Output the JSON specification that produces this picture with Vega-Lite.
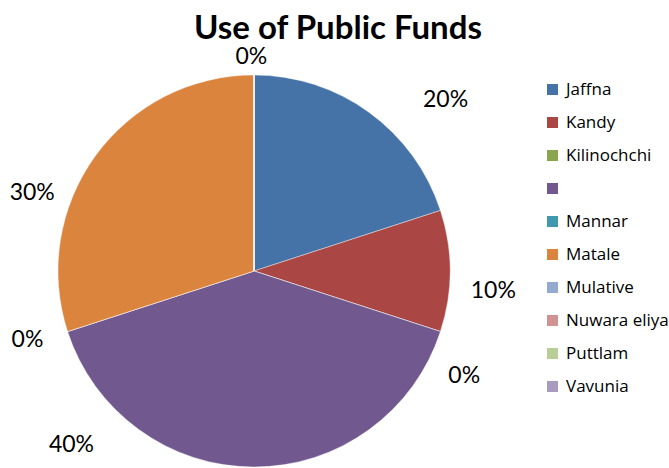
{
  "$schema": "https://vega.github.io/schema/vega-lite/v6.json",
  "autosize": "none",
  "width": 392,
  "height": 392,
  "padding": {"left": 58, "top": 75, "right": 219, "bottom": 1},
  "background": "white",
  "title": {
    "text": "Use of Public Funds",
    "font": "Lato",
    "fontSize": 33,
    "fontWeight": "bold",
    "color": "black",
    "anchor": "middle",
    "frame": "group",
    "dx": 84,
    "dy": 64,
    "baseline": "alphabetic",
    "offset": 38
  },
  "config": {
    "view": {"stroke": null},
    "legend": {
      "labelFont": "Open Sans",
      "labelFontSize": 17,
      "labelColor": "black",
      "symbolType": "square",
      "symbolSize": 121,
      "symbolStrokeWidth": 0,
      "labelOffset": 5,
      "rowPadding": 15,
      "padding": 0
    }
  },
  "data": {
    "values": [
      {"region": "Jaffna", "value": 2, "label": "20%", "at": 13.4, "dist": 131},
      {"region": "Kandy", "value": 1, "label": "10%", "at": 26.3, "dist": 122.5},
      {"region": "Kilinochchi", "value": 0, "label": "0%", "at": 32.4, "dist": 120},
      {"region": " ", "value": 4, "label": "40%", "at": 62.9, "dist": 128.5},
      {"region": "Mannar", "value": 0, "label": "0%", "at": 70.3, "dist": 120.8},
      {"region": "Matale", "value": 3, "label": "30%", "at": 80.4, "dist": 120},
      {"region": "Mulative", "value": 0, "label": "0%", "at": 99.8, "dist": 109},
      {"region": "Nuwara eliya", "value": 0, "label": "0%", "at": 99.8, "dist": 109},
      {"region": "Puttlam", "value": 0, "label": "0%", "at": 99.8, "dist": 109},
      {"region": "Vavunia", "value": 0, "label": "0%", "at": 99.8, "dist": 109}
    ]
  },
  "transform": [
    {"window": [{"op": "row_number", "as": "n"}]}
  ],
  "layer": [
    {
      "mark": {"type": "arc", "stroke": "white", "strokeWidth": 0.4},
      "encoding": {
        "theta": {"field": "value", "type": "quantitative", "stack": true},
        "order": {"field": "n", "type": "quantitative"},
        "color": {
          "field": "region",
          "type": "nominal",
          "title": null,
          "scale": {
            "domain": ["Jaffna", "Kandy", "Kilinochchi", " ", "Mannar", "Matale", "Mulative", "Nuwara eliya", "Puttlam", "Vavunia"],
            "range": ["#4572A7", "#AA4643", "#89A54E", "#71588F", "#4198AF", "#DB843D", "#93A9CF", "#D19392", "#B9CD96", "#A99BBD"]
          },
          "legend": {"orient": "none", "legendX": 486, "legendY": 6}
        }
      }
    },
    {
      "transform": [
        {"aggregate": [{"op": "count", "as": "k"}], "groupby": ["label", "at", "dist"]}
      ],
      "mark": {"type": "text", "font": "Lato", "fontSize": 23, "color": "black", "align": "center", "baseline": "middle"},
      "encoding": {
        "theta": {"field": "at", "type": "quantitative", "scale": {"domain": [0, 100]}},
        "radius": {"field": "dist", "type": "quantitative", "scale": {"type": "linear", "domain": [0, 100], "range": [0, 196], "zero": true}},
        "text": {"field": "label"}
      }
    }
  ],
  "resolve": {"scale": {"theta": "independent"}}
}
